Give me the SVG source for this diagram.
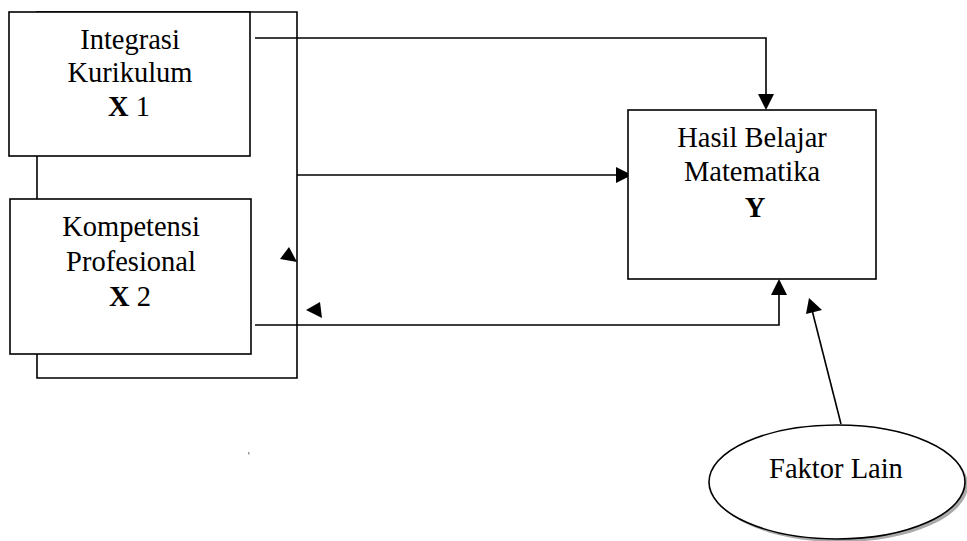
<svg xmlns="http://www.w3.org/2000/svg" width="967" height="541" viewBox="0 0 967 541">
<style>
  .box { fill: #fff; stroke: #000; stroke-width: 1.6; }
  .ln { fill: none; stroke: #000; stroke-width: 1.6; }
  .t { font-family: "Liberation Serif", "Times New Roman", serif; font-size: 28.5px; fill: #000; text-anchor: middle; }
  .b { font-weight: bold; }
  .head { fill: #000; stroke: none; }
</style>
<rect width="967" height="541" fill="#fff"/>
<g id="connectors">
  <!-- enclosing frame -->
  <polyline class="ln" points="37,156 37,12 297,12 297,378 37,378 37,354"/>
  <line class="ln" x1="37" y1="156" x2="37" y2="199"/>
  <!-- X1 -> Y -->
  <polyline class="ln" points="255,38 766,38 766,96"/>
  <polygon class="head" points="758,94 774,94 766,110"/>
  <!-- frame -> Y -->
  <line class="ln" x1="297" y1="175" x2="618" y2="175"/>
  <polygon class="head" points="616,167 616,183 632,175"/>
  <!-- X2 -> Y -->
  <polyline class="ln" points="255,325 779,325 779,294"/>
  <polygon class="head" points="771,295 787,295 779,279"/>
  <!-- Faktor Lain -> Y -->
  <line class="ln" x1="841" y1="424" x2="812" y2="310"/>
  <polygon class="head" points="809,298 806,314 822,310"/>
  <!-- floating arrowheads -->
  <polygon class="head" points="280,259 289,247 297,262"/>
  <polygon class="head" points="306,310 320,302 322,318"/>
  <rect x="248" y="452" width="1.5" height="2.5" fill="#999"/>
</g>
<g id="x1">
  <rect class="box" x="9" y="12" width="241" height="144"/>
  <text class="t" x="130" y="49">Integrasi</text>
  <text class="t" x="130" y="82">Kurikulum</text>
  <text class="t" x="129" y="116"><tspan class="b">X</tspan> 1</text>
</g>
<g id="x2">
  <rect class="box" x="10" y="199" width="241" height="155"/>
  <text class="t" x="131" y="236">Kompetensi</text>
  <text class="t" x="131" y="271">Profesional</text>
  <text class="t" x="130" y="306"><tspan class="b">X</tspan> 2</text>
</g>
<g id="y">
  <rect class="box" x="628" y="110" width="248" height="169"/>
  <text class="t" x="752" y="147">Hasil Belajar</text>
  <text class="t" x="752" y="181">Matematika</text>
  <text class="t b" x="755" y="217">Y</text>
</g>
<g id="faktor-lain">
  <ellipse cx="840" cy="485" rx="128" ry="57" fill="#aaa"/>
  <ellipse cx="837" cy="482" rx="128" ry="57" class="box" stroke-width="1.2"/>
  <text class="t" x="836" y="478">Faktor Lain</text>
</g>
</svg>
